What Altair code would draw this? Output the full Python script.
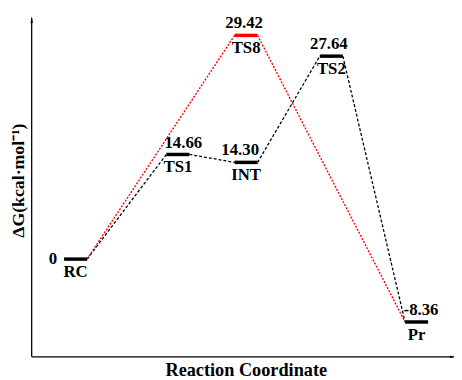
import altair as alt
import pandas as pd

# ---- data ----
stages = ["RC", "TS1", "INT", "TS8", "TS2", "Pr"]
energy_labels = ["0", "14.66", "14.30", "29.42", "27.64", "-8.36"]
drawn_levels = [0.0, 13.76, 12.72, 29.42, 26.69, -8.27]   # vertical position as drawn
stage_pos = [1.0, 2.2, 3.0, 3.0, 4.0, 5.0]                 # position along reaction coordinate
black_path = ["RC", "TS1", "INT", "TS2", "Pr"]
red_path = ["RC", "TS8", "Pr"]

# ---- styling ----
bar_colors = ["black", "black", "black", "#ff0000", "black", "black"]
value_shift_px = [0, 5.5, -6, -2, -2.5, 4.5]
HALF = 0.135
X_DOM = [0.485, 5.439]
Y_DOM = [-12.85, 32.70]
W, H = 428, 351
FONT = "'Liberation Serif', 'Times New Roman', serif"
px_per_x = W / (X_DOM[1] - X_DOM[0])

pos = dict(zip(stages, stage_pos))
lvl = dict(zip(stages, drawn_levels))

levels = pd.DataFrame({
    "stage": stages, "label": energy_labels, "x": stage_pos, "y": drawn_levels,
    "color": bar_colors, "shift": value_shift_px,
})
levels["xa"] = levels["x"] - HALF
levels["xb"] = levels["x"] + HALF
levels["xl"] = levels["x"] + levels["shift"] / px_per_x

segs = []
for name, path in (("black", black_path), ("red", red_path)):
    for a, b in zip(path[:-1], path[1:]):
        segs.append({"path": name, "x": pos[a] + HALF, "y": lvl[a],
                     "x2": pos[b] - HALF, "y2": lvl[b]})
segs = pd.DataFrame(segs)

xaxis = alt.Axis(title="Reaction Coordinate", domain=False, ticks=False, labels=False,
                 grid=False, titleFont=FONT, titleFontSize=18.5, titleFontWeight="bold",
                 titleColor="black", titleX=217, titleY=19, titleBaseline="alphabetic",
                 titleAlign="center")
yaxis = alt.Axis(title="ΔG(kcal·mol⁻¹)", domain=False, ticks=False, labels=False,
                 grid=False, titleFont=FONT, titleFontSize=18, titleFontWeight="bold",
                 titleColor="black", titleX=-13, titleY=172, titleAngle=-90,
                 titleBaseline="middle", titleAlign="center")


def X(f):
    return alt.X(f, type="quantitative", scale=alt.Scale(domain=X_DOM, nice=False, zero=False), axis=xaxis)


def Y(f):
    return alt.Y(f, type="quantitative", scale=alt.Scale(domain=Y_DOM, nice=False, zero=False), axis=yaxis)


seg_black = alt.Chart(segs).transform_filter(alt.datum.path == "black").mark_rule(
    color="black", strokeWidth=1.3, strokeDash=[3, 2]
).encode(x=X("x"), y=Y("y"), x2="x2:Q", y2="y2:Q")

seg_red = alt.Chart(segs).transform_filter(alt.datum.path == "red").mark_rule(
    color="#ff0000", strokeWidth=1.4, strokeDash=[2, 1.5]
).encode(x=X("x"), y=Y("y"), x2="x2:Q", y2="y2:Q")

bars = alt.Chart(levels).mark_rule(strokeWidth=3.5, strokeCap="butt").encode(
    x=X("xa"), x2="xb:Q", y=Y("y"), color=alt.Color("color:N", scale=None)
)

values = alt.Chart(levels).transform_filter(alt.datum.stage != "RC").mark_text(
    font=FONT, fontSize=17, fontWeight="bold", baseline="alphabetic", dy=-7, color="black"
).encode(x=X("xl"), y=Y("y"), text="label:N")

zero = alt.Chart(levels).transform_filter(alt.datum.stage == "RC").mark_text(
    font=FONT, fontSize=17, fontWeight="bold", baseline="middle", align="right", dx=-7,
    color="black"
).encode(x=X("xa"), y=Y("y"), text="label:N")

names = alt.Chart(levels).mark_text(
    font=FONT, fontSize=17, fontWeight="bold", baseline="alphabetic", dy=18, color="black"
).encode(x=X("x"), y=Y("y"), text="stage:N")

# axis lines with arrow heads
axes_df = pd.DataFrame({
    "x": [X_DOM[0], X_DOM[0]], "y": [Y_DOM[0], Y_DOM[0]],
    "x2": [X_DOM[0], 5.43], "y2": [31.66, Y_DOM[0]],
})
axes = alt.Chart(axes_df).mark_rule(color="black", strokeWidth=1.3).encode(
    x=X("x"), y=Y("y"), x2="x2:Q", y2="y2:Q"
)
arrow_up = alt.Chart(pd.DataFrame({"x": [X_DOM[0]], "y": [31.5]})).mark_point(
    shape="M-0.35,1L0,-1L0.35,1Z", filled=True, color="black", size=45, opacity=1
).encode(x=X("x"), y=Y("y"))
arrow_right = alt.Chart(pd.DataFrame({"x": [5.43], "y": [Y_DOM[0]]})).mark_point(
    shape="M-1,-0.35L1,0L-1,0.35Z", filled=True, color="black", size=45, opacity=1
).encode(x=X("x"), y=Y("y"))

chart = alt.layer(
    seg_black, seg_red, bars, values, zero, names, axes, arrow_up, arrow_right
).properties(
    width=W, height=H,
    autosize=alt.AutoSizeParams(type="none"),
    padding={"left": 24, "top": 0, "right": 0, "bottom": 20},
    background="white",
).configure_view(stroke=None)

chart.save("out.html", embed_options={"renderer": "svg", "actions": False})
